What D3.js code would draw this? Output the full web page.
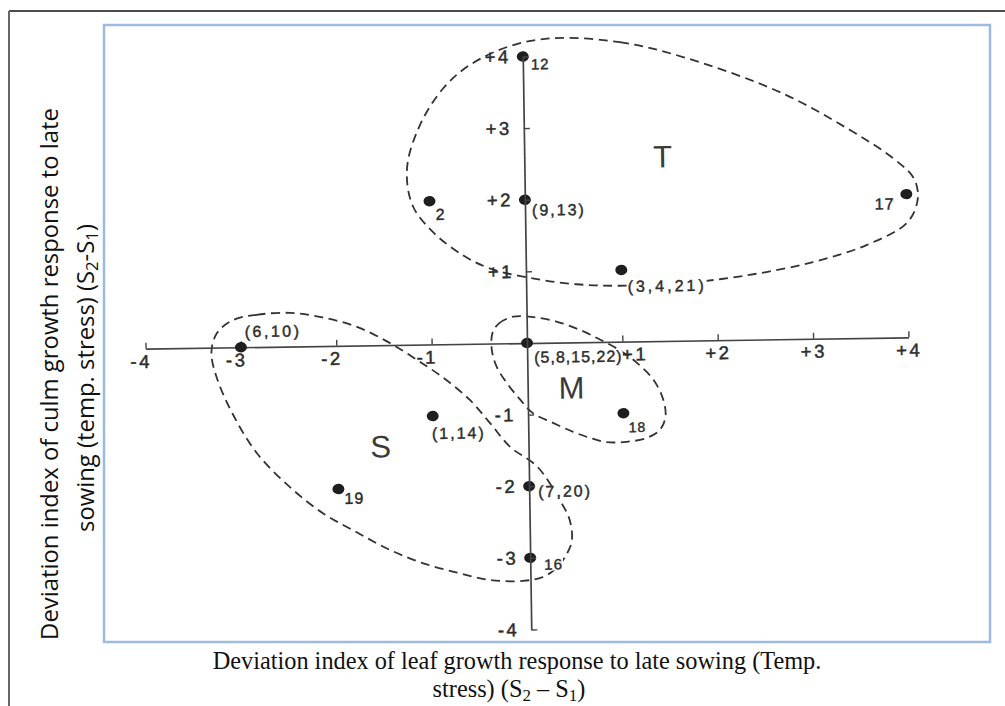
<!DOCTYPE html>
<html>
<head>
<meta charset="utf-8">
<script src="https://cdn.jsdelivr.net/npm/d3@7"></script>
<style>
  html, body { margin: 0; padding: 0; background: #fff; }
  svg { display: block; }
</style>
</head>
<body>
<svg id="chart" width="1005" height="706"></svg>
<script>
// Genotype codes placed at their (leaf, culm) deviation indices
const pointX = [0, -1, 0, 4, 1, -3, 0, 1, -1, -2, 0, 0];
const pointY = [4, 2, 2, 2, 1, 0, 0, -1, -1, -2, -2, -3];
const pointLabels = ["12", "2", "(9,13)", "17", "(3,4,21)", "(6,10)", "(5,8,15,22)", "18", "(1,14)", "19", "(7,20)", "16"];

const xTickValues = [-4, -3, -2, -1, 1, 2, 3, 4];
const xTickLabels = ["-4", "-3", "-2", "-1", "+1", "+2", "+3", "+4"];
const yTickValues = [4, 3, 2, 1, -1, -2, -3, -4];
const yTickLabels = ["+4", "+3", "+2", "+1", "-1", "-2", "-3", "-4"];

// Group letters (tolerant, moderate, susceptible)
const groupNames = ["T", "M", "S"];
const groupX = [1.45, 0.46, -1.55];
const groupY = [2.57, -0.64, -1.42];

// Dashed outlines drawn round each group, in data units
const tOutlineX = [0.32, 1.02, 1.68, 2.69, 3.39, 3.87, 4.08, 4.12, 4.01, 3.58, 3.01, 2.32, 1.61, 0.98, 0.53, 0.07, -0.38, -0.66, -0.97, -1.18, -1.23, -1.09, -0.84, -0.56, -0.13];
const tOutlineY = [4.25, 4.18, 3.96, 3.45, 2.93, 2.50, 2.22, 1.94, 1.61, 1.30, 1.07, 0.90, 0.80, 0.78, 0.81, 0.90, 1.05, 1.24, 1.57, 1.95, 2.47, 3.06, 3.57, 3.89, 4.15];
const mOutlineX = [-0.36, -0.29, -0.14, 0.07, 0.32, 0.56, 0.77, 0.97, 1.15, 1.32, 1.42, 1.44, 1.38, 1.24, 1.03, 0.82, 0.65, 0.47, 0.26, 0.05, -0.08, -0.22, -0.32, -0.37];
const mOutlineY = [0.15, 0.28, 0.37, 0.36, 0.29, 0.17, 0.03, -0.12, -0.30, -0.54, -0.82, -1.06, -1.24, -1.35, -1.40, -1.40, -1.34, -1.25, -1.12, -0.98, -0.79, -0.55, -0.33, -0.09];
const sOutlineX = [-3.08, -2.83, -2.48, -2.14, -1.78, -1.44, -1.16, -0.89, -0.61, -0.40, -0.19, 0.09, 0.32, 0.42, 0.44, 0.39, 0.28, 0.13, -0.08, -0.43, -0.77, -1.13, -1.47, -1.81, -2.17, -2.51, -2.85, -3.10, -3.26, -3.31, -3.25];
const sOutlineY = [0.38, 0.45, 0.47, 0.40, 0.26, 0.03, -0.21, -0.46, -0.78, -1.11, -1.45, -1.73, -2.20, -2.48, -2.76, -2.94, -3.14, -3.27, -3.32, -3.30, -3.19, -3.05, -2.86, -2.61, -2.33, -1.96, -1.48, -0.92, -0.41, -0.07, 0.20];

const xTitleLines = ["Deviation index of leaf growth response to late sowing (Temp.", "stress) (S", "2", " \u2013 S", "1", ")"];
const yTitleLines = ["Deviation index of culm growth response to late", "sowing (temp. stress) (S", "2", "-S", "1", ")"];

// ---------------------------------------------------------------------------
const svg = d3.select("#chart");
const ink = "#2e2e2e";
const handFont = "'Liberation Sans', Arial, sans-serif";

// page frame (table cell edges)
svg.append("line").attr("x1", 9).attr("x2", 1005).attr("y1", 11).attr("y2", 11)
  .attr("stroke", "#111").attr("stroke-width", 1.5);
svg.append("line").attr("x1", 9).attr("x2", 9).attr("y1", 11).attr("y2", 706)
  .attr("stroke", "#666").attr("stroke-width", 2);

// picture box
svg.append("rect").attr("x", 104).attr("y", 25).attr("width", 886).attr("height", 617)
  .attr("fill", "#fff").attr("stroke", "#9dbbe1").attr("stroke-width", 2.5);

// scales (origin in the middle of the box)
const cx = 527, cy = 343;
const x = d3.scaleLinear().domain([-4, 4]).range([cx - 381.5, cx + 381.5]);
const y = d3.scaleLinear().domain([-4, 4]).range([cy + 286.5, cy - 286.5]);

// the drawing sits slightly tilted on the page
const plot = svg.append("g").attr("transform", `rotate(-0.85, ${cx}, ${cy})`);

// group outlines
const outline = d3.line().x(d => x(d[0])).y(d => y(d[1])).curve(d3.curveCatmullRomClosed.alpha(0.5));
[[tOutlineX, tOutlineY], [mOutlineX, mOutlineY], [sOutlineX, sOutlineY]].forEach(([xs, ys]) => {
  plot.append("path")
    .attr("d", outline(xs.map((v, i) => [v, ys[i]])))
    .attr("fill", "none").attr("stroke", "#333").attr("stroke-width", 1.8)
    .attr("stroke-dasharray", "9,5.5");
});

// axes crossing at the origin
const xAxis = d3.axisBottom(x).tickValues(xTickValues)
  .tickFormat((d, i) => xTickLabels[i]).tickSizeInner(-6).tickSizeOuter(0).tickPadding(6);
const yAxis = d3.axisLeft(y).tickValues(yTickValues)
  .tickFormat((d, i) => yTickLabels[i]).tickSizeInner(-6).tickSizeOuter(0).tickPadding(12);

function styleAxis(g) {
  g.attr("font-family", handFont).attr("font-size", 18);
  g.select(".domain").attr("stroke", "#444").attr("stroke-width", 1.7);
  g.selectAll(".tick line").attr("stroke", "#444").attr("stroke-width", 1.4);
  g.selectAll(".tick text").attr("fill", ink).attr("font-size", 18.5).attr("letter-spacing", 2.5)
    .attr("stroke", ink).attr("stroke-width", 0.5);
}
const gx = plot.append("g").attr("transform", `translate(0, ${y(0)})`).call(xAxis).call(styleAxis);
// hand lettering sits a little off-centre: minus signs lean left, "+1" clears the origin label
gx.selectAll(".tick text").attr("dx", d => d < 0 ? -5 : (d === 1 ? 12 : 0));

// points
plot.append("g").selectAll("ellipse")
  .data(pointX.map((v, i) => [v, pointY[i]]))
  .join("ellipse")
  .attr("cx", d => x(d[0])).attr("cy", d => y(d[1]))
  .attr("rx", 6).attr("ry", 5.2).attr("fill", "#1e1e1e");

// label placement beside each point: [dx, dy, anchor, size, spacing]
const labelPlace = {
  "12": [8, 13, "start", 15, 1],
  "2": [6, 19, "start", 16, 1],
  "(9,13)": [7, 16, "start", 16, 2],
  "17": [-12, 15, "end", 16, 1],
  "(3,4,21)": [6, 22, "start", 16, 3],
  "(6,10)": [4, -10, "start", 16, 2.5],
  "(5,8,15,22)": [7, 20, "start", 16, 1],
  "18": [5, 19, "start", 14, 1],
  "(1,14)": [-1, 23, "start", 16, 2],
  "19": [6, 15, "start", 16, 1],
  "(7,20)": [9, 11, "start", 16, 2],
  "16": [14, 12, "start", 15, 1]
};
const labelData = pointLabels.map((t, i) => ({ t, px: pointX[i], py: pointY[i] }));
const labelLayer = plot.append("g");
const knockouts = labelLayer.append("g");
const labels = labelLayer.selectAll("text.pt").data(labelData).join("text")
  .attr("class", "pt")
  .attr("x", d => x(d.px) + labelPlace[d.t][0])
  .attr("y", d => y(d.py) + labelPlace[d.t][1])
  .attr("text-anchor", d => labelPlace[d.t][2])
  .attr("font-size", d => labelPlace[d.t][3])
  .attr("letter-spacing", d => labelPlace[d.t][4])
  .attr("font-family", handFont)
  .attr("fill", ink).attr("stroke", ink).attr("stroke-width", 0.45)
  .text(d => d.t);
// white patch under each label so dashed outlines break around the lettering
labels.each(function () {
  const b = this.getBBox();
  knockouts.append("rect")
    .attr("x", b.x).attr("y", b.y + 3).attr("width", b.width).attr("height", b.height - 5)
    .attr("fill", "#fff");
});

// vertical axis drawn above the label patches
plot.append("g").attr("transform", `translate(${x(0)}, 0)`).call(yAxis).call(styleAxis);

// group letters
plot.append("g").selectAll("text")
  .data(groupNames.map((n, i) => ({ n, gx: groupX[i], gy: groupY[i] })))
  .join("text")
  .attr("x", d => x(d.gx)).attr("y", d => y(d.gy))
  .attr("text-anchor", "middle").attr("dominant-baseline", "central")
  .attr("font-family", handFont).attr("font-size", 31)
  .attr("fill", "#3a3a3a")
  .text(d => d.n);

// fit a text element to a given width by its font size
function fitWidth(sel, target) {
  const w = sel.node().getComputedTextLength();
  const fs = parseFloat(sel.attr("font-size"));
  sel.attr("font-size", fs * target / w);
}

// x title (serif, two lines)
const serif = "'Liberation Serif', 'Times New Roman', serif";
const xt1 = svg.append("text").attr("x", 517).attr("y", 669)
  .attr("text-anchor", "middle").attr("font-family", serif).attr("font-size", 18)
  .attr("fill", "#111").text(xTitleLines[0]);
fitWidth(xt1, 609);
const xfs = parseFloat(xt1.attr("font-size"));
const xt2 = svg.append("text").attr("x", 509).attr("y", 697)
  .attr("text-anchor", "middle").attr("font-family", serif).attr("font-size", xfs).attr("fill", "#111");
xt2.append("tspan").text(xTitleLines[1]);
xt2.append("tspan").attr("dy", 4).attr("font-size", xfs * 0.7).text(xTitleLines[2]);
xt2.append("tspan").attr("dy", -4).text(xTitleLines[3]);
xt2.append("tspan").attr("dy", 4).attr("font-size", xfs * 0.7).text(xTitleLines[4]);
xt2.append("tspan").attr("dy", -4).text(xTitleLines[5]);

// y title (sans, rotated, two lines)
const sans = "'Open Sans', 'Noto Sans', sans-serif";
const yt1 = svg.append("text").attr("transform", "translate(58, 374) rotate(-90)")
  .attr("text-anchor", "middle").attr("font-family", sans).attr("font-size", 20)
  .attr("fill", "#111").text(yTitleLines[0]);
fitWidth(yt1, 532);
const yfs = parseFloat(yt1.attr("font-size"));
const yt2 = svg.append("text").attr("transform", "translate(94, 378) rotate(-90)")
  .attr("text-anchor", "middle").attr("font-family", sans).attr("font-size", yfs).attr("fill", "#111");
yt2.append("tspan").text(yTitleLines[1]);
yt2.append("tspan").attr("dy", 4).attr("font-size", yfs * 0.7).text(yTitleLines[2]);
yt2.append("tspan").attr("dy", -4).text(yTitleLines[3]);
yt2.append("tspan").attr("dy", 4).attr("font-size", yfs * 0.7).text(yTitleLines[4]);
yt2.append("tspan").attr("dy", -4).text(yTitleLines[5]);
</script>
</body>
</html>
